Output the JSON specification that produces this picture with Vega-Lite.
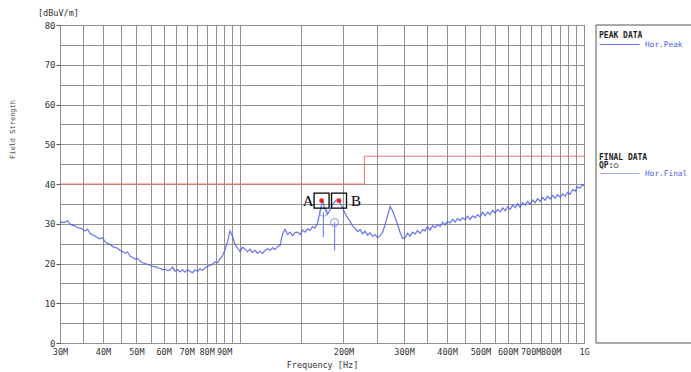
{
  "$schema": "https://vega.github.io/schema/vega-lite/v6.json",
  "autosize": {"type": "pad"},
  "padding": {"left": 7, "top": 8, "right": 0, "bottom": 0},
  "background": "white",
  "bounds": "flush",
  "spacing": 12,
  "config": {
    "view": {"stroke": "#555555", "strokeWidth": 1},
    "font": "DejaVu Sans Mono"
  },
  "datasets": {
    "limit": [{"f": 30, "v": 40}, {"f": 230, "v": 47}, {"f": 1000, "v": 47}],
    "qp": [{"f": 174.8, "v": 32.9, "v2": 26.6}, {"f": 188.4, "v": 30.3, "v2": 23.3}],
    "markers": [{"m": "A", "f": 172.7, "v": 35.8}, {"m": "B", "f": 194.1, "v": 35.8}],
    "panelEdges": [{"e": "bottom", "p": 0}, {"e": "top", "p": 1}],
    "peak": [
      {"f": 30.00, "v": 30.6}, {"f": 30.51, "v": 30.3}, {"f": 31.02, "v": 30.4}, {"f": 31.54, "v": 30.8},
      {"f": 32.08, "v": 29.9}, {"f": 32.62, "v": 29.6}, {"f": 33.17, "v": 29.5}, {"f": 33.73, "v": 29.0},
      {"f": 34.30, "v": 28.9}, {"f": 34.88, "v": 28.6}, {"f": 35.47, "v": 28.2}, {"f": 36.07, "v": 28.6},
      {"f": 36.67, "v": 27.6}, {"f": 37.29, "v": 27.2}, {"f": 37.92, "v": 26.9}, {"f": 38.56, "v": 26.5},
      {"f": 39.21, "v": 26.2}, {"f": 39.87, "v": 26.5}, {"f": 40.55, "v": 25.5}, {"f": 41.23, "v": 25.1},
      {"f": 41.93, "v": 24.8}, {"f": 42.64, "v": 24.3}, {"f": 43.35, "v": 24.0}, {"f": 44.08, "v": 23.9},
      {"f": 44.83, "v": 23.3}, {"f": 45.59, "v": 23.0}, {"f": 46.36, "v": 22.6}, {"f": 47.14, "v": 22.9},
      {"f": 47.93, "v": 21.9}, {"f": 48.74, "v": 21.5}, {"f": 49.56, "v": 21.1}, {"f": 50.40, "v": 21.3},
      {"f": 51.25, "v": 20.6}, {"f": 52.11, "v": 20.2}, {"f": 52.99, "v": 20.0}, {"f": 53.88, "v": 19.8},
      {"f": 54.80, "v": 19.6}, {"f": 55.72, "v": 19.3}, {"f": 56.66, "v": 19.2}, {"f": 57.62, "v": 18.9},
      {"f": 58.59, "v": 18.8}, {"f": 59.58, "v": 18.4}, {"f": 60.59, "v": 18.6}, {"f": 61.61, "v": 18.2},
      {"f": 62.65, "v": 18.4}, {"f": 63.71, "v": 19.1}, {"f": 64.78, "v": 18.1}, {"f": 65.87, "v": 18.5},
      {"f": 66.99, "v": 17.9}, {"f": 68.12, "v": 18.4}, {"f": 69.27, "v": 17.8}, {"f": 70.44, "v": 18.5},
      {"f": 71.62, "v": 18.0}, {"f": 72.83, "v": 17.7}, {"f": 74.06, "v": 18.4}, {"f": 75.31, "v": 18.0},
      {"f": 76.58, "v": 18.7}, {"f": 77.87, "v": 18.3}, {"f": 79.19, "v": 18.9}, {"f": 80.53, "v": 19.3},
      {"f": 81.88, "v": 19.5}, {"f": 83.26, "v": 19.9}, {"f": 84.67, "v": 20.4}, {"f": 86.10, "v": 20.2},
      {"f": 87.55, "v": 21.2}, {"f": 89.03, "v": 21.9}, {"f": 90.53, "v": 23.5}, {"f": 92.06, "v": 25.5},
      {"f": 93.61, "v": 28.2}, {"f": 95.19, "v": 26.8}, {"f": 96.80, "v": 24.8}, {"f": 98.43, "v": 23.9},
      {"f": 100.09, "v": 23.0}, {"f": 101.78, "v": 24.1}, {"f": 103.50, "v": 23.6}, {"f": 105.25, "v": 23.0},
      {"f": 107.02, "v": 23.6}, {"f": 108.83, "v": 22.8}, {"f": 110.66, "v": 23.3}, {"f": 112.53, "v": 22.6},
      {"f": 114.43, "v": 23.1}, {"f": 116.36, "v": 22.5}, {"f": 118.32, "v": 23.3}, {"f": 120.32, "v": 23.7},
      {"f": 122.35, "v": 23.3}, {"f": 124.41, "v": 24.0}, {"f": 126.51, "v": 23.5}, {"f": 128.65, "v": 24.3},
      {"f": 130.82, "v": 24.5}, {"f": 133.03, "v": 27.5}, {"f": 135.27, "v": 28.6}, {"f": 137.55, "v": 27.3},
      {"f": 139.87, "v": 27.9}, {"f": 142.23, "v": 27.0}, {"f": 144.63, "v": 27.8}, {"f": 147.07, "v": 27.9},
      {"f": 149.56, "v": 27.3}, {"f": 152.08, "v": 28.4}, {"f": 154.65, "v": 27.9}, {"f": 157.26, "v": 28.7},
      {"f": 159.91, "v": 28.3}, {"f": 162.61, "v": 29.3}, {"f": 165.35, "v": 28.9}, {"f": 168.14, "v": 30.2},
      {"f": 170.98, "v": 33.0}, {"f": 173.87, "v": 35.8}, {"f": 176.80, "v": 33.6}, {"f": 179.78, "v": 32.4},
      {"f": 182.82, "v": 33.5}, {"f": 185.90, "v": 34.8}, {"f": 189.04, "v": 35.6}, {"f": 192.23, "v": 36.2},
      {"f": 195.47, "v": 35.2}, {"f": 198.77, "v": 34.0}, {"f": 202.12, "v": 32.6}, {"f": 205.53, "v": 31.5},
      {"f": 209.00, "v": 30.6}, {"f": 212.53, "v": 29.4}, {"f": 216.12, "v": 28.9}, {"f": 219.77, "v": 28.0},
      {"f": 223.47, "v": 28.5}, {"f": 227.24, "v": 27.5}, {"f": 231.08, "v": 28.1}, {"f": 234.98, "v": 27.1},
      {"f": 238.94, "v": 27.7}, {"f": 242.97, "v": 26.8}, {"f": 247.07, "v": 27.3}, {"f": 251.24, "v": 26.5},
      {"f": 255.48, "v": 27.0}, {"f": 259.79, "v": 27.8}, {"f": 264.18, "v": 29.8}, {"f": 268.63, "v": 32.0},
      {"f": 273.17, "v": 34.3}, {"f": 277.78, "v": 33.2}, {"f": 282.47, "v": 31.6}, {"f": 287.23, "v": 29.8},
      {"f": 292.08, "v": 27.8}, {"f": 297.01, "v": 26.3}, {"f": 302.02, "v": 26.5}, {"f": 307.12, "v": 27.6},
      {"f": 312.30, "v": 26.9}, {"f": 317.57, "v": 27.9}, {"f": 322.93, "v": 27.4}, {"f": 328.38, "v": 28.3},
      {"f": 333.92, "v": 27.6}, {"f": 339.56, "v": 28.5}, {"f": 345.29, "v": 28.2}, {"f": 351.12, "v": 29.3},
      {"f": 357.04, "v": 28.4}, {"f": 363.07, "v": 29.5}, {"f": 369.19, "v": 29.0}, {"f": 375.42, "v": 29.8},
      {"f": 381.76, "v": 29.3}, {"f": 388.21, "v": 30.4}, {"f": 394.75, "v": 29.7}, {"f": 401.41, "v": 30.6},
      {"f": 408.18, "v": 30.2}, {"f": 415.07, "v": 31.1}, {"f": 422.07, "v": 30.4}, {"f": 429.20, "v": 31.3},
      {"f": 436.44, "v": 30.8}, {"f": 443.81, "v": 31.5}, {"f": 451.29, "v": 31.0}, {"f": 458.91, "v": 31.9},
      {"f": 466.65, "v": 31.1}, {"f": 474.53, "v": 32.0}, {"f": 482.53, "v": 31.5}, {"f": 490.68, "v": 32.3},
      {"f": 498.95, "v": 31.7}, {"f": 507.37, "v": 32.9}, {"f": 515.94, "v": 32.0}, {"f": 524.65, "v": 32.9},
      {"f": 533.50, "v": 32.3}, {"f": 542.51, "v": 33.4}, {"f": 551.65, "v": 32.7}, {"f": 560.96, "v": 33.6},
      {"f": 570.43, "v": 33.0}, {"f": 580.06, "v": 34.0}, {"f": 589.84, "v": 33.3}, {"f": 599.80, "v": 34.3},
      {"f": 609.92, "v": 33.6}, {"f": 620.22, "v": 34.7}, {"f": 630.68, "v": 34.0}, {"f": 641.33, "v": 35.0},
      {"f": 652.14, "v": 34.2}, {"f": 663.15, "v": 35.3}, {"f": 674.33, "v": 34.7}, {"f": 685.71, "v": 35.6},
      {"f": 697.28, "v": 34.9}, {"f": 709.05, "v": 36.0}, {"f": 721.01, "v": 35.3}, {"f": 733.18, "v": 36.3},
      {"f": 745.55, "v": 35.6}, {"f": 758.14, "v": 36.6}, {"f": 770.93, "v": 35.9}, {"f": 783.95, "v": 36.9},
      {"f": 797.17, "v": 36.2}, {"f": 810.63, "v": 37.1}, {"f": 824.30, "v": 36.4}, {"f": 838.22, "v": 37.3},
      {"f": 852.35, "v": 36.7}, {"f": 866.74, "v": 37.5}, {"f": 881.36, "v": 36.9}, {"f": 896.24, "v": 37.9},
      {"f": 911.36, "v": 37.4}, {"f": 926.75, "v": 38.6}, {"f": 942.38, "v": 38.2}, {"f": 958.29, "v": 39.3},
      {"f": 974.45, "v": 39.0}, {"f": 990.90, "v": 39.9}, {"f": 1000.0, "v": 39.5}
    ]
  },
  "hconcat": [
    {
      "width": 524,
      "height": 318,
      "title": {"text": "[dBuV/m]", "anchor": "start", "frame": "group", "dx": -22, "offset": 4, "fontSize": 8.5, "fontWeight": "normal", "font": "DejaVu Sans Mono", "color": "#333333"},
      "encoding": {
        "x": {
          "field": "f", "type": "quantitative",
          "scale": {"type": "log", "domain": [30, 1000], "nice": false},
          "axis": {
            "title": "Frequency [Hz]",
            "values": [30, 35, 40, 45, 50, 55, 60, 65, 70, 75, 80, 85, 90, 95, 100, 150, 200, 250, 300, 350, 400, 450, 500, 550, 600, 650, 700, 750, 800, 850, 900, 950, 1000],
            "labelExpr": "indexof([30,40,50,60,70,80,90,200,300,400,500,600,700,800], datum.value) >= 0 ? datum.value + 'M' : (datum.value == 1000 ? '1G' : '')",
            "grid": true, "gridColor": "#8f8f8f", "gridWidth": 1,
            "ticks": false, "domain": false,
            "labelFont": "DejaVu Sans Mono", "labelFontSize": 8.5, "labelColor": "#333333", "labelPadding": 4,
            "labelFlush": false, "labelOverlap": false,
            "titleFont": "DejaVu Sans Mono", "titleFontSize": 8.5, "titleFontWeight": "normal", "titleColor": "#333333", "titlePadding": 5
          }
        },
        "y": {
          "field": "v", "type": "quantitative",
          "scale": {"domain": [0, 80], "nice": false},
          "axis": {
            "title": "Field Strength",
            "values": [0, 5, 10, 15, 20, 25, 30, 35, 40, 45, 50, 55, 60, 65, 70, 75, 80],
            "labelExpr": "datum.value % 10 == 0 ? datum.value : ''",
            "tickOpacity": {"condition": {"test": "datum.value % 10 == 0", "value": 1}, "value": 0},
            "tickSize": 4, "tickColor": "#555555",
            "grid": true, "gridColor": "#8f8f8f", "gridWidth": 1, "domain": false,
            "labelFont": "DejaVu Sans Mono", "labelFontSize": 9, "labelColor": "#333333", "labelPadding": 1,
            "titleFont": "DejaVu Sans Mono", "titleFontSize": 7, "titleFontWeight": "normal", "titleColor": "#444444",
            "titleX": -48, "titleY": 104, "titleAngle": -90, "titleAlign": "center", "titleBaseline": "middle"
          }
        }
      },
      "layer": [
        {
          "data": {"name": "limit"},
          "mark": {"type": "line", "interpolate": "step-after", "color": "#f07272", "strokeWidth": 1}
        },
        {
          "data": {"name": "peak"},
          "mark": {"type": "line", "strokeWidth": 1.2, "opacity": 0.85},
          "encoding": {
            "color": {
              "datum": "Hor.Peak",
              "scale": {"range": ["#4a5bef"]},
              "legend": {
                "orient": "none", "legendX": 539, "legendY": 7,
                "title": "PEAK DATA",
                "titleFont": "DejaVu Sans Mono", "titleFontSize": 8, "titleFontWeight": "bold", "titleColor": "#222222",
                "labelFont": "DejaVu Sans Mono", "labelFontSize": 7.8, "labelColor": "#4a5bef",
                "symbolType": "stroke", "symbolSize": 1600, "symbolStrokeWidth": 1, "symbolStrokeColor": "#6a78f0",
                "labelOffset": 5, "titlePadding": -16, "padding": 0
              }
            }
          }
        },
        {
          "data": {"name": "qp"},
          "mark": {"type": "rule", "color": "#7a88f0", "strokeWidth": 1.2},
          "encoding": {"y2": {"field": "v2"}}
        },
        {
          "data": {"name": "qp"},
          "mark": {"type": "point", "shape": "circle", "size": 64, "filled": false, "strokeWidth": 1.2},
          "encoding": {
            "stroke": {
              "datum": "Hor.Final",
              "scale": {"range": ["#7a88f0"]},
              "legend": {
                "orient": "none", "legendX": 539, "legendY": 129,
                "title": ["FINAL DATA", "QP:○"],
                "titleFont": "DejaVu Sans Mono", "titleFontSize": 8, "titleFontWeight": "bold", "titleColor": "#222222", "titleLineHeight": 8,
                "labelFont": "DejaVu Sans Mono", "labelFontSize": 7.8, "labelColor": "#4a5bef",
                "symbolType": "stroke", "symbolSize": 1600, "symbolStrokeWidth": 1, "symbolStrokeColor": "#7a88f0",
                "labelOffset": 5, "titlePadding": -17, "padding": 0
              }
            }
          }
        },
        {
          "data": {"name": "markers"},
          "mark": {"type": "point", "shape": "square", "size": 225, "filled": false, "stroke": "#000000", "strokeWidth": 1.3, "opacity": 1}
        },
        {
          "data": {"name": "markers"},
          "mark": {"type": "point", "shape": "circle", "size": 22, "filled": true, "color": "#ff1a1a", "opacity": 1}
        },
        {
          "data": {"name": "markers"},
          "transform": [{"filter": "datum.m == 'A'"}],
          "mark": {"type": "text", "align": "right", "baseline": "middle", "dx": -8, "font": "Liberation Serif", "fontSize": 15, "color": "#000000"},
          "encoding": {"text": {"field": "m"}}
        },
        {
          "data": {"name": "markers"},
          "transform": [{"filter": "datum.m == 'B'"}],
          "mark": {"type": "text", "align": "left", "baseline": "middle", "dx": 12, "font": "Liberation Serif", "fontSize": 15, "color": "#000000"},
          "encoding": {"text": {"field": "m"}}
        }
      ]
    },
    {
      "width": 130,
      "height": 318,
      "view": {"stroke": null, "fill": null},
      "layer": [
        {
          "data": {"values": [{"e": "left", "p": 0}]},
          "mark": {"type": "rule", "color": "#555555", "strokeWidth": 1},
          "encoding": {
            "x": {"field": "p", "type": "quantitative", "scale": {"domain": [0, 1], "nice": false, "zero": false}, "axis": null}
          }
        },
        {
          "data": {"name": "panelEdges"},
          "mark": {"type": "rule", "color": "#555555", "strokeWidth": 1},
          "encoding": {
            "y": {"field": "p", "type": "quantitative", "scale": {"domain": [0, 1], "nice": false, "zero": false}, "axis": null}
          }
        }
      ]
    }
  ]
}
